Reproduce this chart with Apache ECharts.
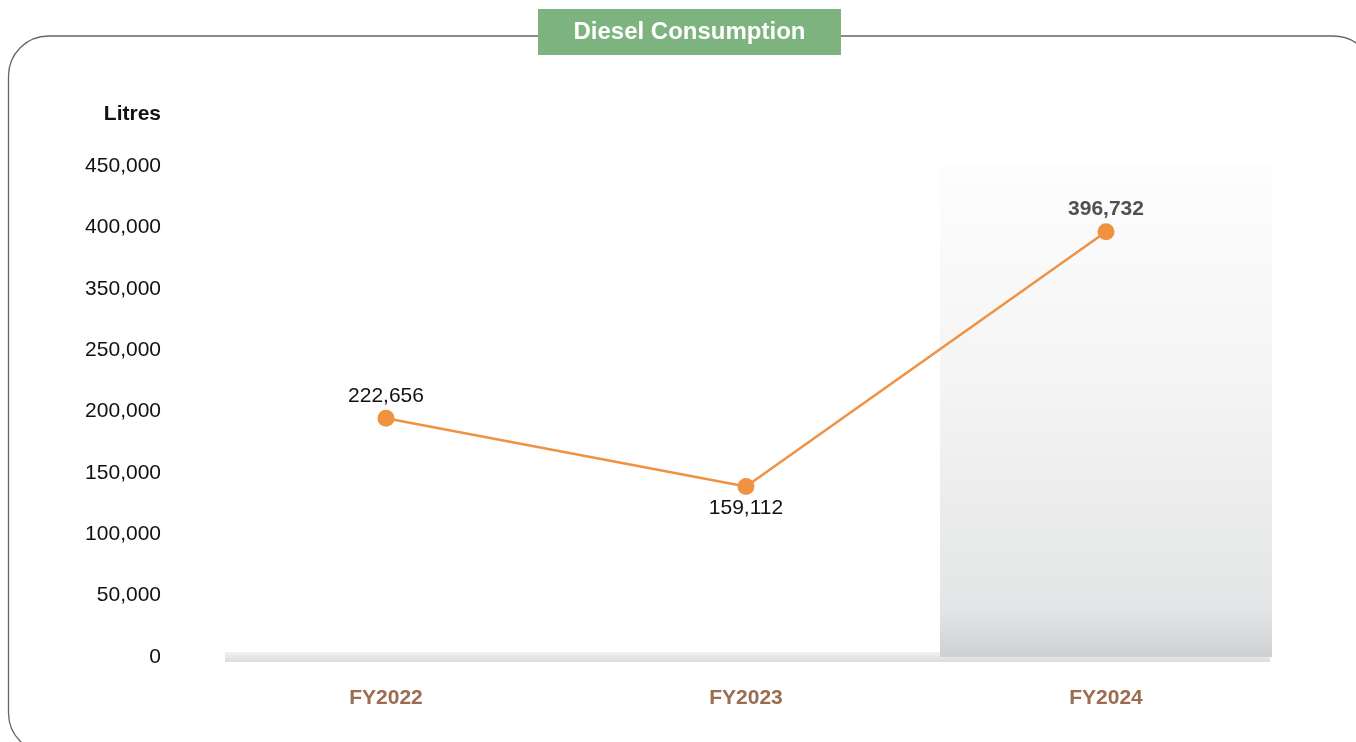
<!DOCTYPE html>
<html>
<head>
<meta charset="utf-8">
<title>Diesel Consumption</title>
<script src="https://cdn.jsdelivr.net/npm/echarts@6/dist/echarts.min.js"></script>
<style>
  html, body { margin: 0; padding: 0; background: #fff; }
  #main { width: 1356px; height: 742px; }
</style>
</head>
<body>
<div id="main"></div>
<script>
// data
const categories = ['FY2022', 'FY2023', 'FY2024'];
const consumption = [222656, 159112, 396732];
const highlight = [null, null, 1]; // shaded column behind the current year
const tickLabels = ['0', '50,000', '100,000', '150,000', '200,000', '250,000', '350,000', '400,000', '450,000'];
const yMax = 458000;
const yStep = yMax / 8;

const font = "'Liberation Sans', Arial, Helvetica, sans-serif";

let myChart = echarts.init(document.getElementById('main'));

let option = {
  animation: false,
  textStyle: { fontFamily: font },
  title: {
    text: 'Litres',
    right: 1195,
    top: 104,
    padding: 0,
    textStyle: { fontFamily: font, fontSize: 21, fontWeight: 'bold', color: '#111' },
  },
  graphic: [
    {
      type: 'rect',
      z: 0,
      shape: { x: 8.5, y: 36, width: 1365, height: 717, r: 40 },
      style: { fill: null, stroke: '#666', lineWidth: 1.3 },
    },
    // floor strip under the plot
    {
      type: 'rect',
      z: 0,
      shape: { x: 225, y: 652, width: 1045, height: 10 },
      style: {
        fill: new echarts.graphic.LinearGradient(0, 0, 0, 1, [
          { offset: 0, color: '#f2f2f2' },
          { offset: 1, color: '#dcdcdc' },
        ]),
      },
    },
    {
      type: 'rect',
      z: 10,
      shape: { x: 538, y: 9, width: 303, height: 46 },
      style: { fill: '#7db37f' },
    },
    {
      type: 'text',
      z: 11,
      x: 689.5,
      y: 32,
      style: {
        text: 'Diesel Consumption',
        fill: '#fff',
        font: 'bold 24px ' + font,
        align: 'center',
        verticalAlign: 'middle',
      },
    },
  ],
  grid: {
    left: 206,
    right: 70,
    top: 166,
    bottom: 85,
  },
  xAxis: {
    type: 'category',
    data: categories,
    axisTick: { show: false },
    axisLine: { show: false },
    axisLabel: {
      margin: 31,
      fontSize: 21,
      fontWeight: 'bold',
      color: '#9b6c4f',
      fontFamily: font,
    },
  },
  yAxis: [
    {
      type: 'value',
      min: 0,
      max: yMax,
      interval: yStep,
      splitLine: { show: false },
      axisLine: { show: false },
      axisTick: { show: false },
      axisLabel: {
        margin: 45,
        fontSize: 21,
        color: '#111',
        fontFamily: font,
        formatter: (v) => tickLabels[Math.round(v / yStep)],
      },
    },
    {
      type: 'value',
      min: 0,
      max: 1,
      show: false,
    },
  ],
  series: [
    {
      type: 'bar',
      yAxisIndex: 1,
      data: highlight,
      barWidth: 332,
      silent: true,
      z: 1,
      itemStyle: {
        color: new echarts.graphic.LinearGradient(0, 0, 0, 1, [
          { offset: 0, color: '#fdfdfd' },
          { offset: 0.45, color: '#f4f4f4' },
          { offset: 0.9, color: '#e4e5e6' },
          { offset: 1, color: '#cfd0d2' },
        ]),
      },
    },
    {
      type: 'line',
      data: consumption.map((v, i) => ({
        value: v,
        label: i === 1
          ? { position: 'bottom' }
          : i === 2
          ? { position: 'top', fontWeight: 'bold', color: '#505050' }
          : { position: 'top' },
      })),
      z: 5,
      symbol: 'circle',
      symbolSize: 17,
      lineStyle: { color: '#ef9241', width: 2.5 },
      itemStyle: { color: '#ef9241' },
      label: {
        show: true,
        distance: 3,
        fontSize: 21,
        color: '#111',
        fontFamily: font,
        formatter: (p) => p.value.toLocaleString('en-US'),
      },
    },
  ],
};

myChart.setOption(option);
window.addEventListener('resize', () => {
  myChart.resize();
});
</script>
</body>
</html>
